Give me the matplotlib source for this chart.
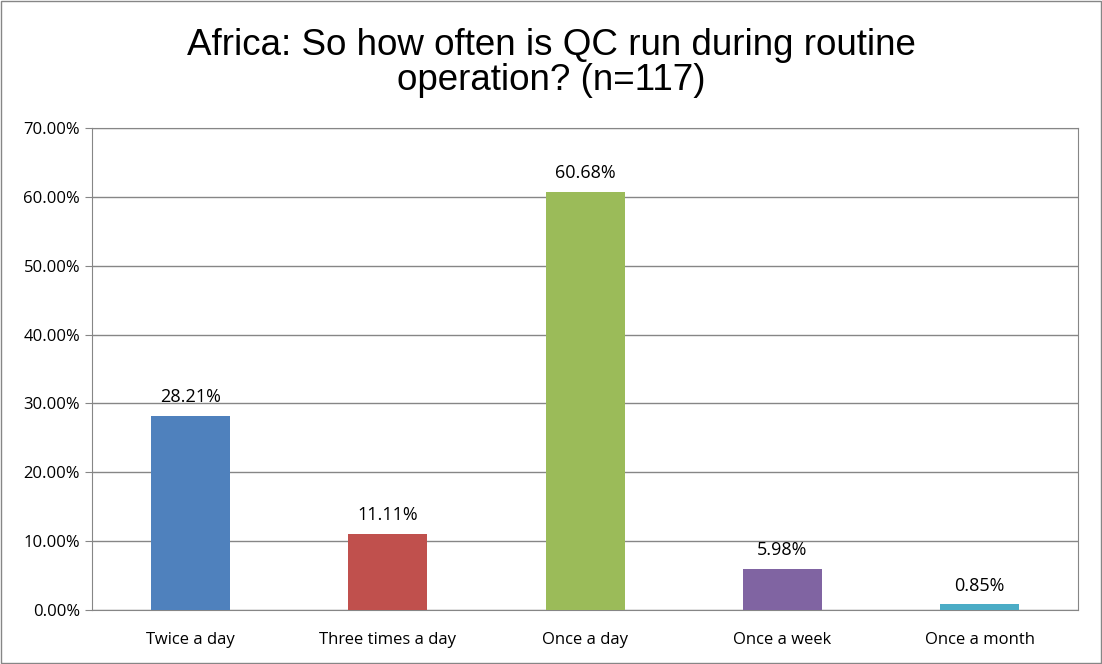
import matplotlib
matplotlib.use("Agg")
import matplotlib.pyplot as plt
from matplotlib.patches import Rectangle

categories = ["Twice a day", "Three times a day", "Once a day", "Once a week", "Once a month"]
values = [28.21, 11.11, 60.68, 5.98, 0.85]
colors = ["#4F81BD", "#C0504D", "#9BBB59", "#8064A2", "#4BACC6"]
yticks = [0, 10, 20, 30, 40, 50, 60, 70]

fig = plt.figure(figsize=(11.02, 6.64), dpi=100)
ax = fig.add_axes([0.0835, 0.0813, 0.895, 0.726])
x = range(len(categories))
ax.bar(x, values, width=0.4, color=colors, zorder=3)
for i, v in enumerate(values):
    ax.text(i, v + 1.4, f"{v:.2f}%", ha="center", va="bottom", fontsize=13, family="Open Sans")
ax.set_ylim(0, 70)
ax.set_xlim(-0.5, len(categories) - 0.5)
ax.set_yticks(yticks)
ax.set_yticklabels([f"{t:.2f}%" for t in yticks], fontsize=12, family="Open Sans")
ax.set_xticks(list(x))
ax.set_xticklabels(categories, fontsize=12, family="Open Sans")
ax.grid(axis="y", color="#868686", linewidth=1, zorder=0)
for s in ax.spines.values():
    s.set_color("#868686")
ax.tick_params(axis="x", length=0, pad=16)
ax.tick_params(axis="y", length=5, color="#868686", direction="out")
fig.text(0.5, 0.905, "Africa: So how often is QC run during routine\noperation? (n=117)",
         ha="center", va="center", fontsize=26.5, family="Liberation Sans", linespacing=1.0)
fig.patches.append(Rectangle((0.001, 0.001), 0.998, 0.998, transform=fig.transFigure,
                             fill=False, edgecolor="#868686", linewidth=1))
fig.savefig("out.png", dpi=100)
